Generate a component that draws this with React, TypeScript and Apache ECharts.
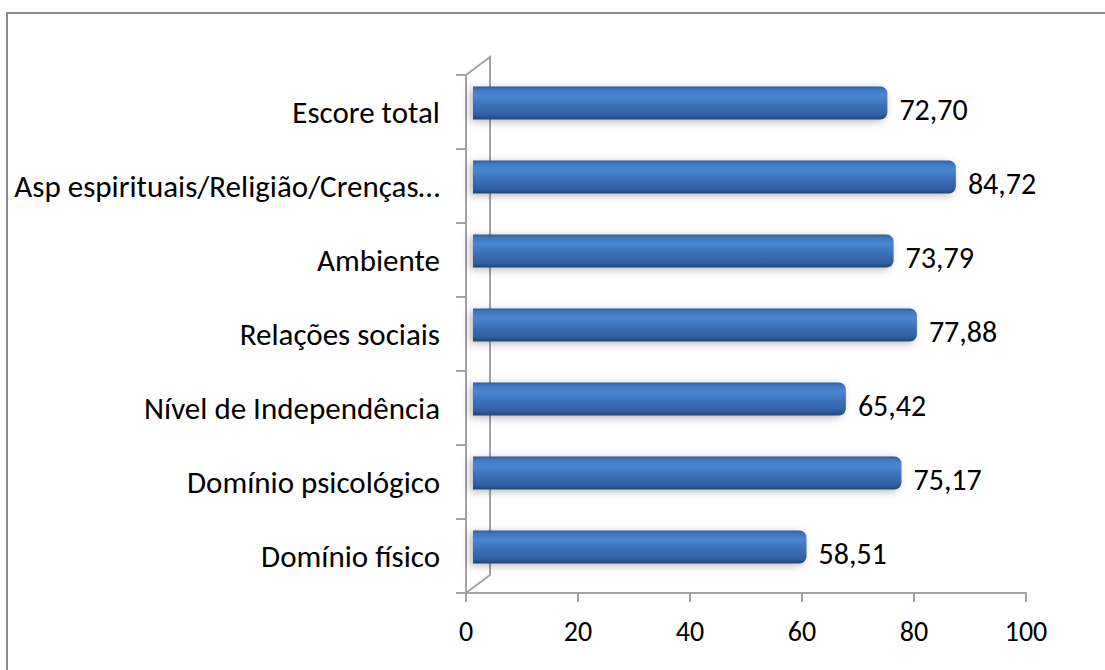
import React, { useEffect, useRef } from "react";
import * as echarts from "echarts";

const categories = [
  "Domínio físico",
  "Domínio psicológico",
  "Nível de Independência",
  "Relações sociais",
  "Ambiente",
  "Asp espirituais/Religião/Crenças…",
  "Escore total",
];
const values = [58.51, 75.17, 65.42, 77.88, 73.79, 84.72, 72.7];
const xTicks = { min: 0, max: 100, interval: 20 };

const FONT = "Carlito, Lato, 'Liberation Sans', sans-serif";

export default function App() {
  const ref = useRef<HTMLDivElement>(null);
  useEffect(() => {
    document.body.style.margin = "0";
    const chart = echarts.init(ref.current!, null, { renderer: "svg" });
    const axisColor = "#a3a3a3";
    // wall geometry (front axis at x=466, back at 490, depth offset -18 in y)
    const fx = 466, bx = 490, top = 75, bottom = 593, dy = 18;
    chart.setOption({
      animation: false,
      backgroundColor: "#ffffff",
      grid: [
        { left: fx, right: 1105 - 1026, top: top, bottom: 670 - bottom, containLabel: false },
        { left: 473, right: 1105 - 1043, top: top - 9, bottom: 670 - bottom + 9, containLabel: false },
      ],
      xAxis: [
        {
          type: "value",
          gridIndex: 0,
          min: xTicks.min,
          max: xTicks.max,
          interval: xTicks.interval,
          axisLine: { show: true, lineStyle: { color: axisColor, width: 2 } },
          axisTick: { show: true, length: 9, lineStyle: { color: axisColor, width: 2 } },
          splitLine: { show: false },
          axisLabel: { color: "#000", fontSize: 28, fontFamily: FONT, margin: 24 },
        },
        {
          type: "value",
          gridIndex: 1,
          min: xTicks.min,
          max: xTicks.max,
          show: false,
        },
      ],
      yAxis: [
        {
          type: "category",
          gridIndex: 0,
          data: categories,
          axisLine: { show: true, lineStyle: { color: axisColor, width: 2 } },
          axisTick: { show: true, length: 10, lineStyle: { color: axisColor, width: 2 } },
          axisLabel: { color: "#000", fontSize: 31, fontFamily: FONT, margin: 26 },
          splitLine: { show: false },
        },
        {
          type: "category",
          gridIndex: 1,
          data: categories,
          show: false,
        },
      ],
      graphic: [
        {
          type: "rect",
          shape: { x: 7, y: 13, width: 1120, height: 700 },
          style: { fill: "none", stroke: "#8c8c8c", lineWidth: 2 },
          silent: true,
        },
        {
          type: "polyline",
          shape: { points: [[fx, top], [bx, top - dy], [bx, bottom - dy], [fx, bottom]] },
          style: { fill: "none", stroke: axisColor, lineWidth: 2 },
          silent: true,
          z: 1,
        },
      ],
      series: [
        {
          type: "bar",
          xAxisIndex: 1,
          yAxisIndex: 1,
          data: values,
          barWidth: 33,
          z: 3,
          itemStyle: {
            borderRadius: [0, 7, 7, 0],
            color: new echarts.graphic.LinearGradient(0, 0, 0, 1, [
              { offset: 0, color: "#2b5893" },
              { offset: 0.08, color: "#3d74be" },
              { offset: 0.28, color: "#4a87d3" },
              { offset: 0.55, color: "#3b72bb" },
              { offset: 0.85, color: "#2f60a3" },
              { offset: 1, color: "#1f4577" },
            ]),
            shadowColor: "rgba(0,0,0,0.28)",
            shadowBlur: 8,
            shadowOffsetX: -3,
            shadowOffsetY: 2,
          },
          label: {
            show: true,
            position: "right",
            distance: 12,
            offset: [0, 6],
            color: "#000",
            fontSize: 30,
            fontFamily: FONT,
            formatter: (p: any) => Number(p.value).toFixed(2).replace(".", ","),
          },
        },
      ],
    });
    return () => chart.dispose();
  }, []);
  return (
    <div
      ref={ref}
      style={{ position: "absolute", left: 0, top: 0, width: 1105, height: 670 }}
    />
  );
}
